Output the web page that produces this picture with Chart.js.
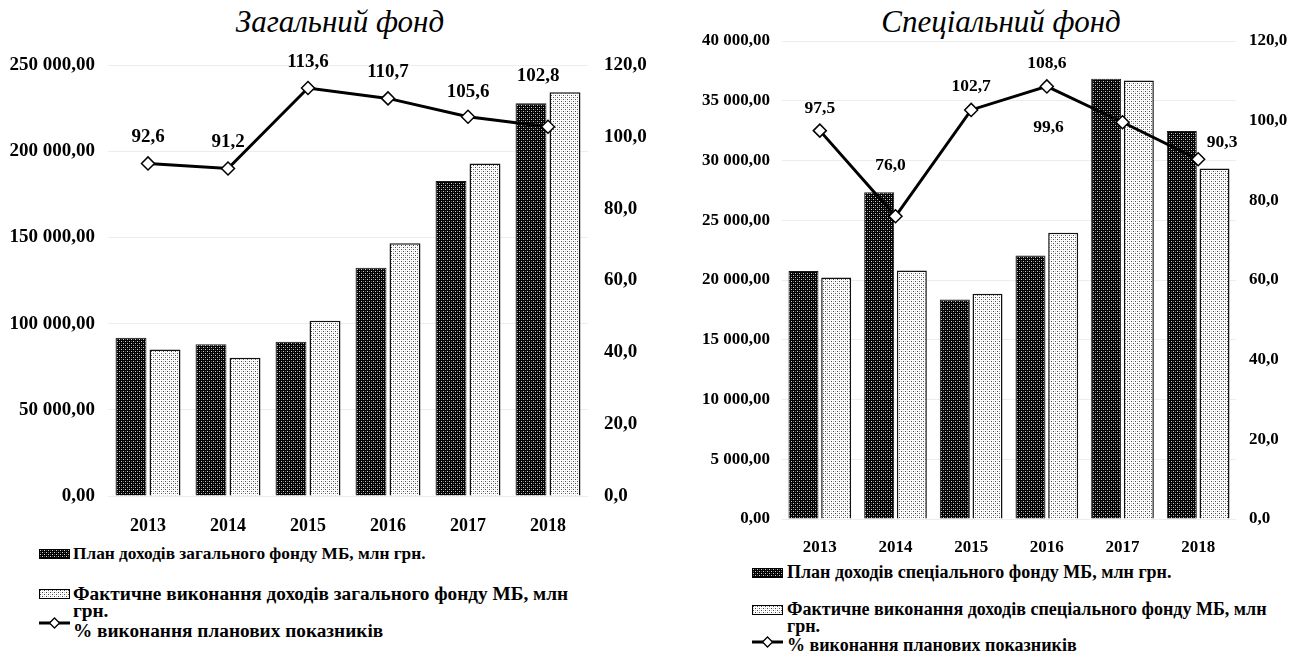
<!DOCTYPE html>
<html>
<head>
<meta charset="utf-8">
<script src="https://cdn.jsdelivr.net/npm/chart.js@4.4.1/dist/chart.umd.min.js"></script>
<style>
  html, body { margin: 0; padding: 0; background: #fff; }
  body { width: 1298px; height: 653px; overflow: hidden; position: relative;
         font-family: "Liberation Serif", "Times New Roman", serif; color: #000; }
  .title { position: absolute; top: 4px; font-style: italic; font-size: 31px; white-space: nowrap;
           transform: translateX(-50%); line-height: 36px; font-family: "Liberation Serif", "Times New Roman", serif; }
  .wrap { position: absolute; top: 0; }
  .leg { position: absolute; font-weight: bold; white-space: nowrap; font-family: "Liberation Serif", "Times New Roman", serif; }
  .leg canvas { position: absolute; }
  .leg span { position: absolute; line-height: 17px; }
</style>
</head>
<body>
<div class="title" style="left:340px;">Загальний фонд</div>
<div class="title" style="left:1001px;">Спеціальний фонд</div>
<div class="wrap" style="left:0px;width:680px;height:536px;"><canvas id="c1" width="680" height="536"></canvas></div>
<div class="wrap" style="left:690px;width:608px;height:559px;"><canvas id="c2" width="608" height="559"></canvas></div>
<div id="legends"></div>
<script>
// ---------- DATA ----------
const categories = ['2013', '2014', '2015', '2016', '2017', '2018'];

const generalPlan    = [91800, 88000, 89500, 132400, 182700, 227800];
const generalActual  = [85000, 80200, 101600, 146600, 192800, 234200];
const generalPercent = [92.6, 91.2, 113.6, 110.7, 105.6, 102.8];

const specialPlan    = [20750, 27350, 18370, 22050, 36850, 32470];
const specialActual  = [20200, 20800, 18850, 23950, 36700, 29330];
const specialPercent = [97.5, 76.0, 102.7, 108.6, 99.6, 90.3];

const generalAxisMax = 250000, generalAxisStep = 50000;
const specialAxisMax = 40000,  specialAxisStep = 5000;
const percentAxisMax = 120,    percentAxisStep = 20;

const generalLabels = ['План доходів загального фонду МБ, млн грн.',
                       'Фактичне виконання доходів загального фонду МБ, млн',
                       'грн.',
                       '% виконання планових показників'];
const specialLabels = ['План доходів спеціального фонду МБ, млн грн.',
                       'Фактичне виконання доходів спеціального фонду МБ, млн',
                       'грн.',
                       '% виконання планових показників'];

// ---------- STYLE HELPERS ----------
function makePattern(kind) {
  const c = document.createElement('canvas');
  c.width = 4; c.height = 4;
  const x = c.getContext('2d');
  if (kind === 'dark') {
    x.fillStyle = '#000'; x.fillRect(0, 0, 4, 4);
    x.fillStyle = '#d0d0d0'; x.fillRect(1, 1, 1, 1); x.fillRect(3, 3, 1, 1);
    x.fillStyle = '#505050'; x.fillRect(3, 1, 1, 1); x.fillRect(1, 3, 1, 1);
  } else {
    x.fillStyle = '#fff'; x.fillRect(0, 0, 4, 4);
    x.fillStyle = '#4a4a4a'; x.fillRect(1, 1, 1, 1); x.fillRect(3, 3, 1, 1);
    x.fillStyle = '#c4c4c4'; x.fillRect(3, 1, 1, 1); x.fillRect(1, 3, 1, 1);
  }
  return x.createPattern(c, 'repeat');
}
const darkPattern = makePattern('dark');
const lightPattern = makePattern('light');

function fmtMoney(v) {
  const s = Math.round(v).toString().replace(/\B(?=(\d{3})+(?!\d))/g, ' ');
  return s + ',00';
}
function fmtPct(v) { return v.toFixed(1).replace('.', ','); }

const FONT = '"Liberation Serif", "Times New Roman", serif';

const pctLabelPlugin = {
  id: 'pctLabels',
  afterDatasetsDraw(chart, args, opts) {
    const ctx = chart.ctx;
    const meta = chart.getDatasetMeta(0);
    const values = chart.data.datasets[0].data;
    ctx.save();
    ctx.font = 'bold ' + opts.size + 'px ' + FONT;
    ctx.fillStyle = '#000';
    ctx.textAlign = 'center';
    ctx.textBaseline = 'middle';
    meta.data.forEach((pt, i) => {
      const o = opts.offsets[i];
      ctx.fillText(fmtPct(values[i]), pt.x + o[0], pt.y + o[1]);
    });
    ctx.restore();
  }
};

function buildChart(id, plan, actual, pct, labels, g) {
  return new Chart(document.getElementById(id), {
    type: 'bar',
    data: {
      labels: categories,
      datasets: [
        { type: 'line', label: labels[3], data: pct, yAxisID: 'y1', order: 0,
          borderColor: '#000', borderWidth: 3, tension: 0, fill: false,
          pointStyle: 'rectRot', pointRadius: 6.5, pointBorderWidth: 1.5,
          pointBackgroundColor: '#fff', pointBorderColor: '#000' },
        { label: labels[0], data: plan, yAxisID: 'y', order: 1,
          backgroundColor: darkPattern, borderColor: '#1a1a1a', borderWidth: 1,
          categoryPercentage: g.catPct, barPercentage: g.barPct },
        { label: labels[1] + ' ' + labels[2], data: actual, yAxisID: 'y', order: 1,
          backgroundColor: lightPattern, borderColor: '#111', borderWidth: 1.5,
          categoryPercentage: g.catPct, barPercentage: g.barPct }
      ]
    },
    options: {
      responsive: false, animation: false,
      layout: { padding: { top: g.top, left: 0, right: 0, bottom: 0 } },
      plugins: {
        legend: { display: false }, title: { display: false }, tooltip: { enabled: false },
        pctLabels: { size: g.labelSize, offsets: g.offsets }
      },
      scales: {
        x: {
          grid: { display: false }, border: { display: false },
          ticks: { color: '#000', font: { family: FONT, size: g.xSize, weight: 'bold' }, padding: g.xPad },
          afterFit(s) { s.height = 40; }
        },
        y: {
          position: 'left', min: 0, max: g.yMax,
          ticks: { stepSize: g.yStep, color: '#000', padding: g.yPad,
                   font: { family: FONT, size: g.ySize, weight: 'bold' }, callback: v => fmtMoney(v) },
          grid: { color: 'rgba(0,0,0,0.07)', lineWidth: 1, drawTicks: false },
          border: { display: false },
          afterFit(s) { s.width = g.leftW; }
        },
        y1: {
          position: 'right', min: 0, max: percentAxisMax,
          ticks: { stepSize: percentAxisStep, color: '#000', padding: g.y1Pad,
                   font: { family: FONT, size: g.ySize, weight: 'bold' }, callback: v => fmtPct(v) },
          grid: { display: false, drawTicks: false }, border: { display: false },
          afterFit(s) { s.width = g.rightW; }
        }
      }
    },
    plugins: [pctLabelPlugin]
  });
}

buildChart('c1', generalPlan, generalActual, generalPercent, generalLabels, {
  top: 65, leftW: 108, rightW: 92, yMax: generalAxisMax, yStep: generalAxisStep,
  catPct: 0.85, barPct: 0.91, xSize: 18, ySize: 19, xPad: 12, yPad: 13, y1Pad: 16, labelSize: 19,
  offsets: [[0, -26], [0, -26], [0, -26], [0, -26], [0, -25], [-10, -51]]
});
buildChart('c2', specialPlan, specialActual, specialPercent, specialLabels, {
  top: 41, leftW: 92, rightW: 62, yMax: specialAxisMax, yStep: specialAxisStep,
  catPct: 0.864, barPct: 0.917, xSize: 17, ySize: 17, xPad: 10, yPad: 12, y1Pad: 13, labelSize: 17.5,
  offsets: [[0, -22], [-5, -51], [0, -23], [0, -23], [-74, 5], [24, -17]]
});

// ---------- LEGENDS (HTML) ----------
function swatch(kind, w, h) {
  const c = document.createElement('canvas');
  c.width = w; c.height = h;
  const x = c.getContext('2d');
  if (kind === 'line') {
    x.strokeStyle = '#000'; x.lineWidth = 3;
    x.beginPath(); x.moveTo(0, h / 2); x.lineTo(w, h / 2); x.stroke();
    const cx = w / 2, cy = h / 2, r = 5;
    x.beginPath(); x.moveTo(cx - r, cy); x.lineTo(cx, cy - r); x.lineTo(cx + r, cy); x.lineTo(cx, cy + r); x.closePath();
    x.fillStyle = '#fff'; x.fill(); x.lineWidth = 1.3; x.stroke();
  } else {
    x.fillStyle = kind === 'dark' ? darkPattern : lightPattern;
    x.fillRect(0, 0, w, h);
    x.strokeStyle = '#000'; x.lineWidth = 1;
    x.strokeRect(0.5, 0.5, w - 1, h - 1);
  }
  return c;
}
function buildLegend(labels, L) {
  const box = document.createElement('div');
  box.className = 'leg';
  box.style.left = L.x + 'px'; box.style.top = '0px';
  const rows = [
    { kind: 'dark', text: labels[0], y: L.y[0] },
    { kind: 'light', text: labels[1], y: L.y[1] },
    { kind: null, text: labels[2], y: L.y[2] },
    { kind: 'line', text: labels[3], y: L.y[3] }
  ];
  rows.forEach((r, i) => {
    if (r.kind) {
      const h = r.kind === 'line' ? 12 : 10;
      const c = swatch(r.kind, 31, h);
      c.style.left = '0px';
      c.style.top = (r.kind === 'line' ? (L.lineY - h / 2) : (r.y - h / 2)) + 'px';
      box.appendChild(c);
    }
    const s = document.createElement('span');
    s.textContent = r.text;
    s.style.fontSize = L.sizes[i] + 'px';
    s.style.left = L.tx + 'px';
    s.style.top = (r.y - 9) + 'px';
    box.appendChild(s);
  });
  document.getElementById('legends').appendChild(box);
}
buildLegend(generalLabels, { x: 39, tx: 34, sizes: [17.3, 19.3, 19.3, 19.3], y: [554, 594, 611, 631], lineY: 623 });
buildLegend(specialLabels, { x: 752, tx: 35, sizes: [18, 18, 18, 18], y: [573, 610, 627, 646], lineY: 642 });
</script>
</body>
</html>
